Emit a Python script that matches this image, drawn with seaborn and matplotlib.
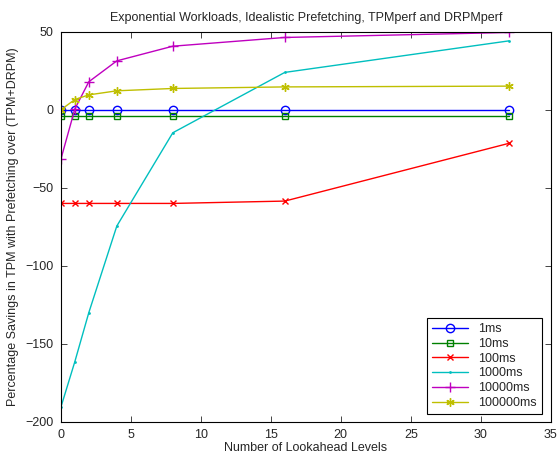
import pandas as pd
import matplotlib
matplotlib.use('Agg')
import matplotlib.pyplot as plt
import seaborn as sns

# lookahead levels and savings per workload
levels = [0, 1, 2, 4, 8, 16, 32]
series_names = ['1ms', '10ms', '100ms', '1000ms', '10000ms', '100000ms']
sav_1ms = [0, 0, 0, 0, 0, 0, 0]
sav_10ms = [-4, -4, -4, -4, -4, -4, -4]
sav_100ms = [-60, -60, -60, -60, -60, -58.5, -21.5]
sav_1000ms = [-190.8, -161.5, -130, -74.5, -14.7, 24, 44.2]
sav_10000ms = [-31.8, 0.5, 18, 31.4, 40.8, 46.4, 49.6]
sav_100000ms = [0, 6.6, 9.6, 12.2, 13.7, 14.7, 15.2]

x_ticks = [0, 5, 10, 15, 20, 25, 30, 35]
y_ticks = [-200, -150, -100, -50, 0, 50]

colors = ['#0000ff', '#008000', '#ff0000', '#00bfbf', '#bf00bf', '#bfbf00']
markers = ['o', 's', 'x', '.', '+', (6, 2, 0)]
sizes = [6, 5, 5, 2, 7, 6]

sns.set_style('ticks')
plt.rcParams['font.family'] = ['Liberation Sans', 'DejaVu Sans']

all_vals = [sav_1ms, sav_10ms, sav_100ms, sav_1000ms, sav_10000ms, sav_100000ms]
df = pd.DataFrame({
    'level': levels * len(series_names),
    'saving': [v for vals in all_vals for v in vals],
    'workload': [n for n in series_names for _ in levels],
})

fig = plt.figure(figsize=(5.58, 4.55), dpi=100)
ax = fig.add_axes([0.109, 0.073, 0.878, 0.857])

for name, col, mk, ms in zip(series_names, colors, markers, sizes):
    sub = df[df['workload'] == name]
    sns.lineplot(x='level', y='saving', data=sub, ax=ax, color=col, marker=mk,
                 markersize=ms, markerfacecolor='none', markeredgecolor=col,
                 markeredgewidth=1, linewidth=1, label=name, estimator=None)

ax.set_xlim(0, 35)
ax.set_ylim(-200, 50)
ax.set_xticks(x_ticks)
ax.set_yticks(y_ticks)
ax.tick_params(direction='in', top=True, right=True, labelsize=9, length=4, width=0.6, pad=5)
for sp in ax.spines.values():
    sp.set_linewidth(0.8)
    sp.set_color('black')

ax.set_title('Exponential Workloads, Idealistic Prefetching, TPMperf and DRPMperf', fontsize=9, pad=8)
ax.set_xlabel('Number of Lookahead Levels', fontsize=9, labelpad=1)
ax.set_ylabel('Percentage Savings in TPM with Prefetching over (TPM+DRPM)', fontsize=9, labelpad=5)

leg = ax.legend(loc='lower right', fontsize=9, fancybox=False, framealpha=1,
                edgecolor='black', handlelength=2.9, borderpad=0.4, labelspacing=0.22,
                borderaxespad=0, bbox_to_anchor=(0.982, 0.02))
leg.get_frame().set_linewidth(0.8)

fig.savefig('out.png', dpi=100)
